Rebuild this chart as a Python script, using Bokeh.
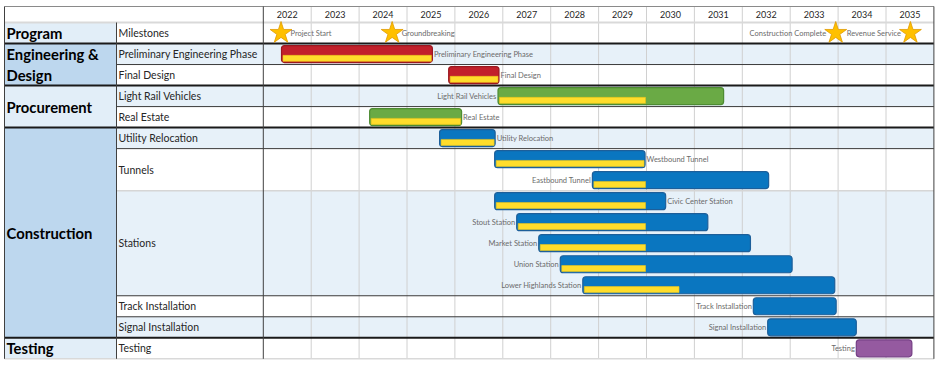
from bokeh.plotting import figure
from bokeh.models import ColumnDataSource, Range1d
from bokeh.embed import file_html
from bokeh.resources import INLINE
from bokeh.core.properties import value

# ---------------- data ----------------
years = list(range(2022, 2036))

groups = ["Program", "Engineering &\nDesign", "Procurement", "Construction", "Testing"]
group_rows = [1, 2, 2, 10, 1]

tasks = ["Milestones", "Preliminary Engineering Phase", "Final Design",
         "Light Rail Vehicles", "Real Estate", "Utility Relocation", "Tunnels",
         "Stations", "Track Installation", "Signal Installation", "Testing"]
task_rows = [1, 1, 1, 1, 1, 1, 2, 5, 1, 1, 1]

milestones = ["Project Start", "Groundbreaking", "Construction Complete", "Revenue Service"]
milestone_date = [2022.37, 2024.69, 2033.95, 2035.51]
milestone_side = ["right", "right", "left", "left"]

bar_names = ["Preliminary Engineering Phase", "Final Design", "Light Rail Vehicles",
             "Real Estate", "Utility Relocation", "Westbound Tunnel", "Eastbound Tunnel",
             "Civic Center Station", "Stout Station", "Market Station", "Union Station",
             "Lower Highlands Station", "Track Installation", "Signal Installation", "Testing"]
bar_row = [1, 2, 3, 4, 5, 6, 7, 8, 9, 10, 11, 12, 13, 14, 15]
bar_start = [2022.38, 2025.87, 2026.90, 2024.22, 2025.68, 2026.83, 2028.87,
             2026.83, 2027.29, 2027.75, 2028.20, 2028.67, 2032.23, 2032.53, 2034.38]
bar_end = [2025.53, 2026.92, 2031.61, 2026.14, 2026.84, 2029.97, 2032.55,
           2030.40, 2031.28, 2032.17, 2033.04, 2033.93, 2033.96, 2034.38, 2035.54]
bar_progress = [2025.53, 2026.92, 2030.00, 2026.14, 2026.84, 2029.97, 2030.00,
                2030.00, 2030.00, 2030.00, 2030.00, 2030.70, None, None, None]
bar_phase = ["eng", "eng", "proc", "proc", "con", "con", "con", "con", "con",
             "con", "con", "con", "con", "con", "test"]
bar_label_side = ["right", "right", "left", "right", "right", "right", "left",
                  "right", "left", "left", "left", "left", "left", "left", "left"]

# ---------------- layout / style ----------------
W, H = 936, 366
ROW_PX = 21.02
PX_YR = 47.9
TL_PX = 262.8          # frame pixel where the timeline starts
GRP_PX = 4.0
TASK_PX = 116.0
TOP_PX = 6.0           # top border
HDR_PX = 22.0          # header bottom

def px2x(px):
    return years[0] + (px - TL_PX) / PX_YR

def dpx(px):
    return px / PX_YR

def dpy(px):
    return px / ROW_PX

NROWS = sum(task_rows)

def py2y(py):
    return NROWS - (py - HDR_PX) / ROW_PX

X0 = px2x(0)
X1 = px2x(W)
XG = px2x(GRP_PX)
XT = px2x(TASK_PX)
XL = years[0]
XR = years[-1] + 1

Y1 = py2y(0)
Y0 = py2y(H)
YTOP = py2y(TOP_PX)

FONT = value("Lato")
fill_c = {"eng": "#C2202B", "proc": "#6AAA45", "con": "#0A76C0", "test": "#955AA0"}
line_c = {"eng": "#9A1820", "proc": "#4E8C33", "con": "#1D5F9A", "test": "#743E84"}
BAND = "#E7F1F9"
GRP_LIGHT = "#E2EEF8"
GRP_DARK = "#BDD7EE"

p = figure(width=W, height=H, output_backend="svg", toolbar_location=None,
           x_range=Range1d(X0, X1), y_range=Range1d(Y0, Y1),
           x_axis_type=None, y_axis_type=None, min_border=0,
           outline_line_color=None, background_fill_color="white")
p.grid.visible = False

def row_top(i):
    return NROWS - i

# ---- task rows (bands) ----
t_top, t_bot, t_fill = [], [], []
start = 0
for k, n in enumerate(task_rows):
    t_top.append(row_top(start))
    t_bot.append(row_top(start + n))
    t_fill.append(BAND if k % 2 == 1 else "white")
    start += n
p.quad(left=XT, right=XR, top=t_top, bottom=t_bot, fill_color=t_fill, line_color=None)

# ---- group cells ----
g_top, g_bot, g_fill = [], [], []
start = 0
for k, n in enumerate(group_rows):
    g_top.append(row_top(start))
    g_bot.append(row_top(start + n))
    g_fill.append(GRP_DARK if k in (1, 3) else GRP_LIGHT)
    start += n
p.quad(left=XG, right=XT, top=g_top, bottom=g_bot, fill_color=g_fill, line_color=None)

# ---- grid lines ----
yr_lines = years[1:]
p.segment(x0=yr_lines, x1=yr_lines, y0=row_top(NROWS), y1=YTOP, line_color="#D0D0D0", line_width=1)
# header bottom
p.segment(x0=[XG], x1=[XR], y0=[row_top(0)], y1=[row_top(0)], line_color="#D9D9D9", line_width=2)
# task separators within groups
grp_bounds = set()
acc = 0
for n in group_rows:
    acc += n
    grp_bounds.add(acc)
sep_dark, sep_light = [], []
acc = 0
for k, n in enumerate(task_rows[:-1]):
    acc += n
    if acc in grp_bounds:
        continue
    if tasks[k + 1] == "Stations":
        sep_light.append(row_top(acc))
    else:
        sep_dark.append(row_top(acc))
p.segment(x0=XT, x1=XR, y0=sep_dark, y1=sep_dark, line_color="#3A3A3A", line_width=1)
p.segment(x0=XT, x1=XR, y0=sep_light, y1=sep_light, line_color="#D6D6D6", line_width=1.5)
gb = [row_top(b) for b in sorted(grp_bounds) if b < NROWS]
p.segment(x0=XG, x1=XR, y0=gb, y1=gb, line_color="#1A1A1A", line_width=2)
# bottom and top borders
p.segment(x0=[XG], x1=[XR], y0=[row_top(NROWS)], y1=[row_top(NROWS)], line_color="#D9D9D9", line_width=1.5)
p.segment(x0=[XG], x1=[XR], y0=[YTOP], y1=[YTOP], line_color="#8A8A8A", line_width=1)
# verticals
p.segment(x0=[XG, XL, XR], x1=[XG, XL, XR], y0=[row_top(NROWS)] * 3, y1=[YTOP] * 3,
          line_color="#404040", line_width=1)
p.segment(x0=[XT], x1=[XT], y0=[row_top(NROWS)], y1=[row_top(0)], line_color="#404040", line_width=1)

# ---- year labels ----
p.text(x=[y + 0.5 for y in years], y=[(row_top(0) + YTOP) / 2] * len(years),
       text=[str(y) for y in years], text_font=FONT, text_font_size="9px",
       text_align="center", text_baseline="middle", text_color="#1F1F1F")

# ---- group labels ----
p.text(x=[XG + dpx(2)] * len(groups), y=[(a + b) / 2 for a, b in zip(g_top, g_bot)],
       text=groups, text_font=FONT, text_font_size="14.8px", text_font_style="bold",
       text_align="left", text_baseline="middle", text_color="#000000",
       text_line_height=1.2)

# ---- task labels ----
p.text(x=[XT + dpx(2)] * len(tasks), y=[(a + b) / 2 for a, b in zip(t_top, t_bot)],
       text=tasks, text_font=FONT, text_font_size="10.5px",
       text_align="left", text_baseline="middle", text_color="#262626")

# ---- bars ----
BAR_H = dpy(17)
bc = [row_top(r) - 0.5 for r in bar_row]
src = ColumnDataSource(dict(
    y=bc, left=bar_start, right=bar_end,
    fill=[fill_c[c] for c in bar_phase], line=[line_c[c] for c in bar_phase]))
p.hbar(y="y", left="left", right="right", height=BAR_H, source=src,
       fill_color="fill", line_color="line", line_width=1.2, border_radius=3)

PROG_H = dpy(6)
py_, pl, pr = [], [], []
for yc, s, e in zip(bc, bar_start, bar_progress):
    if e is None:
        continue
    py_.append(yc - BAR_H / 2 + dpy(1.2) + PROG_H / 2)
    pl.append(s + dpx(1.5))
    pr.append(e - dpx(1.0))
p.hbar(y=py_, left=pl, right=pr, height=PROG_H, fill_color="#FFDD2B",
       line_color="#E9C21A", line_width=0.6)

# bar labels
for side in ("right", "left"):
    xs, ys, ts = [], [], []
    for n, yc, s, e, sd in zip(bar_names, bc, bar_start, bar_end, bar_label_side):
        if sd != side:
            continue
        xs.append(e + dpx(1.5) if side == "right" else s - dpx(1.5))
        ys.append(yc)
        ts.append(n)
    p.text(x=xs, y=ys, text=ts, text_font=FONT, text_font_size="7.5px",
           text_align="left" if side == "right" else "right",
           text_baseline="middle", text_color="#6B6B6B")

# ---- milestones ----
my = row_top(0) - 0.5
p.scatter(x=milestone_date, y=[my] * len(milestones), marker="star", size=23,
          fill_color="#FFC000", line_color="#E09B00", line_width=0.8)
for side in ("right", "left"):
    xs, ts = [], []
    for n, d, sd in zip(milestones, milestone_date, milestone_side):
        if sd != side:
            continue
        xs.append(d + dpx(9.5) if side == "right" else d - dpx(9.5))
        ts.append(n)
    p.text(x=xs, y=[my] * len(xs), text=ts, text_font=FONT, text_font_size="7.5px",
           text_align="left" if side == "right" else "right",
           text_baseline="middle", text_color="#6B6B6B")

open("out.html", "w").write(file_html(p, INLINE))
